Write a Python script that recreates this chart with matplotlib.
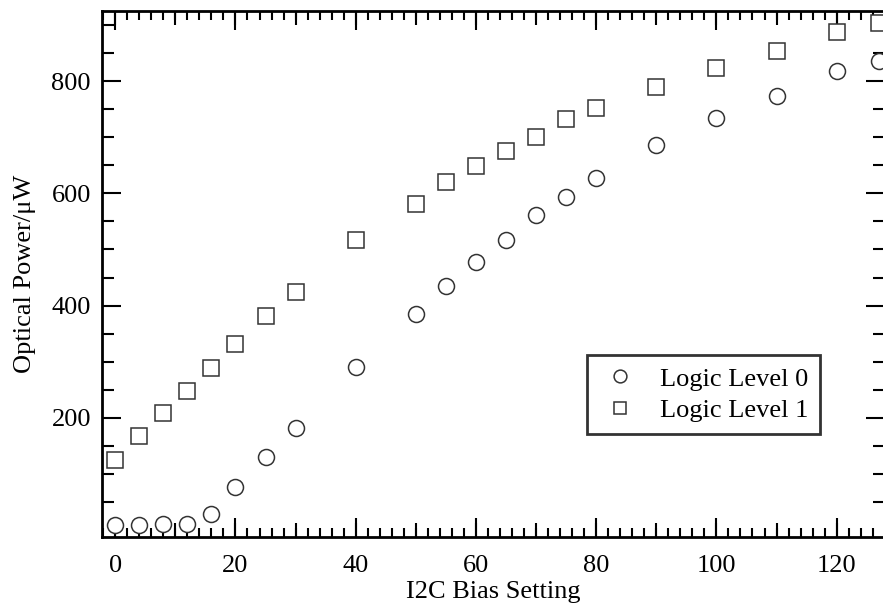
import numpy as np
import matplotlib
matplotlib.use("Agg")
import matplotlib.pyplot as plt
from matplotlib.ticker import MultipleLocator, FixedLocator

# I2C bias setting
bias = [0, 4, 8, 12, 16, 20, 25, 30, 40, 50, 55, 60, 65, 70, 75, 80, 90, 100, 110, 120, 127]
# optical power (uW)
level0 = [9, 9, 10, 11, 28, 77, 130, 181, 291, 385, 435, 477, 517, 561, 593, 628,
          686, 734, 774, 818, 836]
level1 = [124, 168, 208, 247, 288, 332, 382, 424, 516, 581, 620, 649, 676, 701, 732, 753,
          789, 824, 854, 887, 903]

plt.rcParams['font.family'] = ['Liberation Serif', 'DejaVu Serif']
plt.rcParams['font.size'] = 19

fig = plt.figure(figsize=(8.83, 6.04), dpi=100)
ax = fig.add_axes([0.1155, 0.1109, 0.8865, 0.8709])

ax.plot(bias, level0, 'o', ms=11.5, mfc='white', mec='#333333', mew=1.1, label='Logic Level 0')
ax.plot(bias, level1, 's', ms=11, mfc='white', mec='#333333', mew=1.1, label='Logic Level 1')

ax.set_xlim(-2.2, 128)
ax.set_ylim(-12.5, 925)

ax.xaxis.set_major_locator(MultipleLocator(20))
ax.xaxis.set_minor_locator(MultipleLocator(2))
ax.yaxis.set_major_locator(FixedLocator([200, 400, 600, 800]))
ax.yaxis.set_minor_locator(FixedLocator(np.arange(50, 925, 50)))

ax.tick_params(which='both', direction='in', top=True, right=True, width=1.5, color='black')
ax.tick_params(which='major', length=14)
ax.tick_params(axis='y', which='minor', length=8.5)
ax.tick_params(axis='x', which='minor', length=6.5)
ax.tick_params(axis='x', which='major', pad=13)
ax.tick_params(axis='y', which='major', pad=8)

# medium ticks every 10 on the x axis
for loc in ['bottom', 'top']:
    sec = ax.secondary_xaxis(loc)
    sec.xaxis.set_major_locator(MultipleLocator(10))
    sec.tick_params(direction='in', length=10, width=1.5, labelbottom=False, labeltop=False)
    for s in sec.spines.values():
        s.set_visible(False)

for s in ax.spines.values():
    s.set_linewidth(2)

ax.set_xlabel('I2C Bias Setting', labelpad=3)
ax.set_ylabel('Optical Power/\u03bcW', labelpad=11)

leg = ax.legend(loc='lower right', bbox_to_anchor=(0.917, 0.196), borderaxespad=0,
                frameon=True, fancybox=False, edgecolor='black', markerscale=0.8,
                handletextpad=0.7, labelspacing=0.3, borderpad=0.45, handlelength=1.6)
leg.get_frame().set_linewidth(2)

fig.savefig('out.png', dpi=100)
